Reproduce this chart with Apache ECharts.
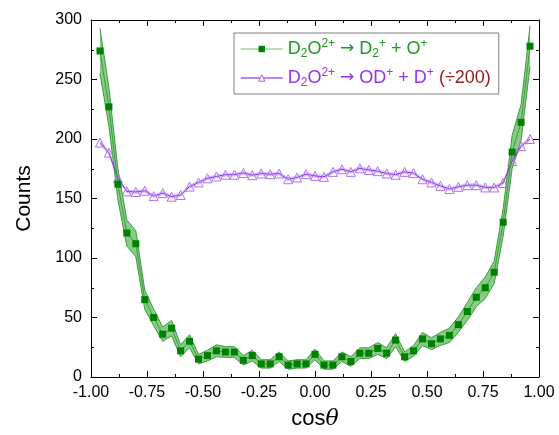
<!DOCTYPE html>
<html>
<head>
<meta charset="utf-8">
<title>cos theta distribution</title>
<script src="https://cdn.jsdelivr.net/npm/echarts@6/dist/echarts.min.js"></script>
<style>
  html, body { margin: 0; padding: 0; background: #fff; }
  #main { width: 559px; height: 435px; }
</style>
</head>
<body>
<div id="main"></div>
<script type="text/javascript">
// cos(theta) bin centres
var cosTheta = [-0.96, -0.92, -0.88, -0.84, -0.80, -0.76, -0.72, -0.68, -0.64, -0.60,
                -0.56, -0.52, -0.48, -0.44, -0.40, -0.36, -0.32, -0.28, -0.24, -0.20,
                -0.16, -0.12, -0.08, -0.04, 0.00, 0.04, 0.08, 0.12, 0.16, 0.20,
                0.24, 0.28, 0.32, 0.36, 0.40, 0.44, 0.48, 0.52, 0.56, 0.60,
                0.64, 0.68, 0.72, 0.76, 0.80, 0.84, 0.88, 0.92, 0.96];
// D2O2+ -> D2+ + O+
var d2Counts = [274, 227, 162, 121, 112, 65, 50, 36, 41, 22,
                30, 15, 18, 22, 21, 21, 14, 18, 11, 11,
                17, 10, 11, 11, 19, 10, 10, 17, 13, 20,
                20, 24, 20, 31, 17, 22, 32, 28, 32, 35,
                44, 55, 67, 75, 88, 130, 189, 214, 278];
var d2Err = [19, 16, 13, 11, 11, 8, 7, 6, 6.5, 5,
             5.5, 4, 4.5, 5, 4.5, 4.5, 4, 4.5, 3.5, 3.5,
             4, 3.5, 3.5, 3.5, 4.5, 3.5, 3.5, 4, 4, 4.5,
             4.5, 5, 4.5, 5.5, 4, 4.5, 5.5, 5, 5.5, 6,
             6.5, 7.5, 8, 9, 9.5, 11.5, 14, 15, 17];
// D2O2+ -> OD+ + D+ (divided by 200)
var odCounts = [197, 188.5, 167, 156, 155.5, 156.5, 152, 154.5, 151.5, 153,
                160, 163.5, 167, 168.5, 170, 170, 171.5, 169.6, 171, 170.4,
                171, 166.2, 167.7, 170.4, 169, 168.2, 172.4, 174.6, 172.4, 175.4,
                174, 173, 171, 170, 172.4, 171.3, 166.2, 163.5, 160.6, 158,
                159.8, 161.2, 161.2, 159.3, 159.3, 163, 181.5, 194, 200];
var odErr = [1.5, 1.5, 1.2, 1.2, 1.2, 1.2, 1.2, 1.2, 1.2, 1.2,
             1.2, 1.2, 1.2, 1.2, 1.2, 1.2, 1.2, 1.2, 1.2, 1.2,
             1.2, 1.2, 1.2, 1.2, 1.2, 1.2, 1.2, 1.2, 1.2, 1.2,
             1.2, 1.2, 1.2, 1.2, 1.2, 1.2, 1.2, 1.2, 1.2, 1.2,
             1.2, 1.2, 1.2, 1.2, 1.2, 1.2, 1.5, 1.5, 1.5];
var xTicks = [-1, 1, 0.25];
var yTicks = [0, 300, 50];

var nameGreen = 'D2';
var nameViolet = 'OD';
var fontMain = 'Arial, "Liberation Sans", sans-serif';

function pairs(vals) {
    return cosTheta.map(function (x, i) { return [x, vals[i]]; });
}

// error band drawn as one polygon through the axis scale
function bandRenderer(vals, errs, fill, edge) {
    return function (params, api) {
        if (params.dataIndex !== 0) return null;
        var up = [], lo = [];
        for (var i = 0; i < cosTheta.length; i++) {
            up.push(api.coord([cosTheta[i], vals[i] + errs[i]]));
            lo.push(api.coord([cosTheta[i], vals[i] - errs[i]]));
        }
        var poly = up.concat(lo.slice().reverse());
        return {
            type: 'group',
            children: [
                { type: 'polygon', shape: { points: poly }, style: { fill: fill, stroke: null } },
                { type: 'polyline', shape: { points: up }, style: { fill: null, stroke: edge, lineWidth: 1 } },
                { type: 'polyline', shape: { points: lo }, style: { fill: null, stroke: edge, lineWidth: 1 } }
            ]
        };
    };
}

var axisCommon = {
    type: 'value',
    axisLine: { show: true, onZero: false, lineStyle: { color: '#000', width: 1 } },
    axisTick: { show: true, inside: true, length: 6, lineStyle: { color: '#000' } },
    minorTick: { show: true, splitNumber: 2, length: 3, lineStyle: { color: '#000' } },
    splitLine: { show: false },
    minorSplitLine: { show: false }
};

var arrowFont = '"DejaVu Sans", sans-serif';

var myChart = echarts.init(document.getElementById('main'));
var option = {
    animation: false,
    backgroundColor: '#fff',
    textStyle: { fontFamily: fontMain },
    grid: { left: 91, right: 20, top: 20, bottom: 56, containLabel: false },
    legend: {
        orient: 'vertical',
        left: 234,
        top: 33,
        padding: [5, 8, 5, 6],
        itemGap: 7,
        itemWidth: 42,
        itemHeight: 8,
        borderColor: '#808080',
        borderWidth: 1,
        backgroundColor: '#fff',
        data: [
            { name: nameGreen, itemStyle: { color: '#008000' }, lineStyle: { color: '#6cc06c', width: 1 } },
            { name: nameViolet, itemStyle: { color: '#fff', borderColor: '#a45cf0', borderWidth: 1 }, lineStyle: { color: '#a45cf0', width: 1.5 } }
        ],
        formatter: function (name) {
            if (name === nameGreen) {
                return '{g|D}{gs|2}{g|O}{gu|2+}{g| }{ga|→}{g| D}{gs|2}{gu|+}{g| + O}{gu|+}';
            }
            return '{p|D}{ps|2}{p|O}{pu|2+}{p| }{pa|→}{p| OD}{pu|+}{p| + D}{pu|+} {r|(÷200)}';
        },
        textStyle: {
            fontFamily: fontMain,
            fontSize: 18,
            rich: {
                g: { color: '#1f9a1f', fontSize: 18, lineHeight: 22, verticalAlign: 'middle' },
                ga: { color: '#1f9a1f', fontSize: 17, lineHeight: 22, verticalAlign: 'middle', fontFamily: arrowFont },
                gs: { color: '#1f9a1f', fontSize: 12, lineHeight: 11, verticalAlign: 'bottom' },
                gu: { color: '#1f9a1f', fontSize: 12, lineHeight: 11, verticalAlign: 'top' },
                p: { color: '#9b30f5', fontSize: 18, lineHeight: 22, verticalAlign: 'middle' },
                pa: { color: '#9b30f5', fontSize: 17, lineHeight: 22, verticalAlign: 'middle', fontFamily: arrowFont },
                ps: { color: '#9b30f5', fontSize: 12, lineHeight: 11, verticalAlign: 'bottom' },
                pu: { color: '#9b30f5', fontSize: 12, lineHeight: 11, verticalAlign: 'top' },
                r: { color: '#a01a1a', fontSize: 18, lineHeight: 22, verticalAlign: 'middle' }
            }
        }
    },
    xAxis: [
        Object.assign({}, axisCommon, {
            min: xTicks[0], max: xTicks[1], interval: xTicks[2],
            position: 'bottom',
            axisLabel: {
                color: '#000', fontSize: 16, margin: 8, fontFamily: fontMain,
                formatter: function (v) { return v.toFixed(2); }
            },
            name: '{n|cos}{t|θ}',
            nameLocation: 'middle',
            nameGap: 31,
            nameTextStyle: {
                rich: {
                    n: { fontSize: 22, color: '#000', fontFamily: fontMain },
                    t: { fontSize: 22, color: '#000', fontStyle: 'italic', fontFamily: '"DejaVu Serif", serif' }
                }
            }
        }),
        Object.assign({}, axisCommon, {
            min: xTicks[0], max: xTicks[1], interval: xTicks[2],
            position: 'top',
            axisLabel: { show: false }
        })
    ],
    yAxis: [
        Object.assign({}, axisCommon, {
            min: yTicks[0], max: yTicks[1], interval: yTicks[2],
            position: 'left',
            axisLabel: { color: '#000', fontSize: 16, margin: 9, fontFamily: fontMain },
            name: 'Counts',
            nameLocation: 'middle',
            nameGap: 56,
            nameTextStyle: { fontSize: 21, color: '#000', fontFamily: fontMain }
        }),
        Object.assign({}, axisCommon, {
            min: yTicks[0], max: yTicks[1], interval: yTicks[2],
            position: 'right',
            axisLabel: { show: false }
        })
    ],
    series: [
        {
            name: 'odBand',
            type: 'custom',
            clip: true,
            z: 1,
            renderItem: bandRenderer(odCounts, odErr, 'rgba(215,190,255,0.5)', 'rgba(190,150,250,0.5)'),
            data: pairs(odCounts),
            encode: { x: 0, y: 1 },
            silent: true
        },
        {
            name: 'd2Band',
            type: 'custom',
            clip: true,
            z: 2,
            renderItem: bandRenderer(d2Counts, d2Err, 'rgba(95,185,95,0.75)', '#3c9c3c'),
            data: pairs(d2Counts),
            encode: { x: 0, y: 1 },
            silent: true
        },
        {
            name: nameViolet,
            type: 'line',
            z: 3,
            data: pairs(odCounts),
            symbol: 'triangle',
            symbolSize: 9,
            showAllSymbol: true,
            lineStyle: { color: '#8a2be2', width: 1 },
            itemStyle: { color: 'rgba(255,255,255,0)', borderColor: '#b070f5', borderWidth: 1 }
        },
        {
            name: nameGreen,
            type: 'line',
            z: 4,
            data: pairs(d2Counts),
            symbol: 'rect',
            symbolSize: 7,
            showAllSymbol: true,
            lineStyle: { color: '#3aa03a', width: 1 },
            itemStyle: { color: '#008000' }
        }
    ]
};
myChart.setOption(option);
</script>
</body>
</html>
